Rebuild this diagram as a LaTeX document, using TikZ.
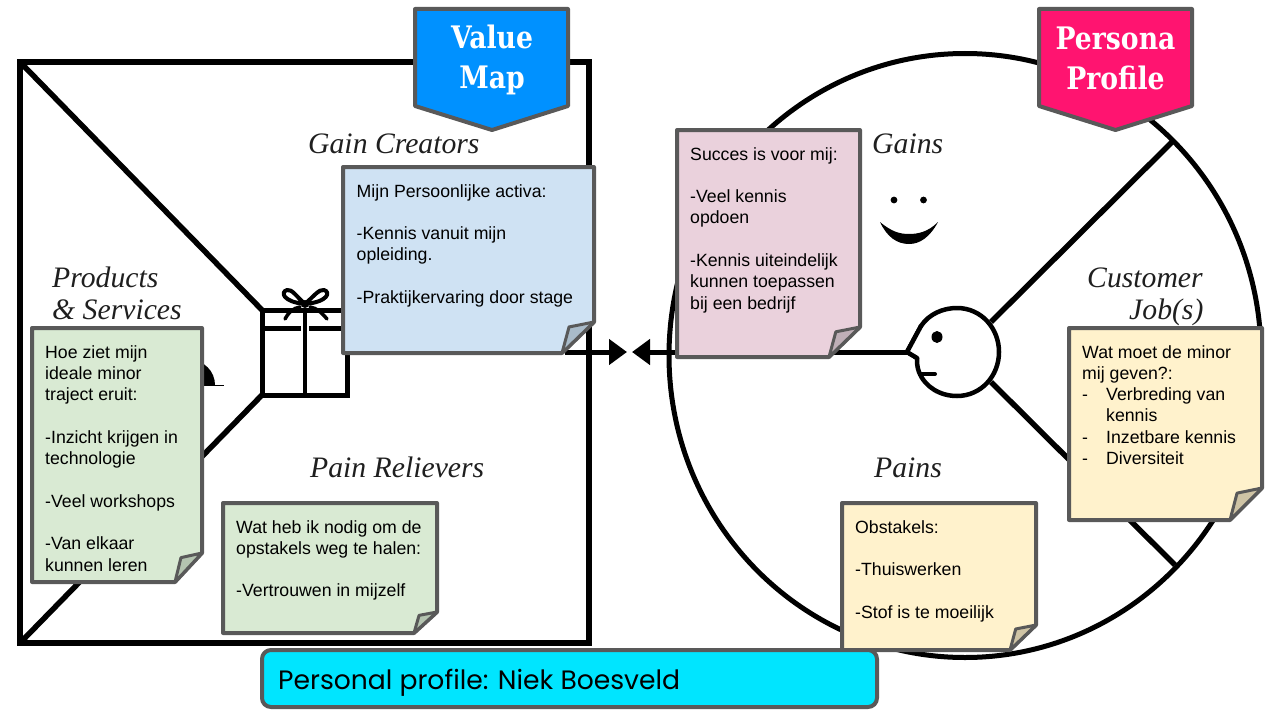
\documentclass[tikz,border=0pt]{standalone}
\usepackage{fontspec}
\usetikzlibrary{arrows.meta}
\setmainfont{Liberation Sans}
\newfontfamily\tagfont{DejaVu Serif}[FakeStretch=0.86]
\newfontfamily\labelfont{Liberation Serif}
\newfontfamily\barfont{Poppins}
\definecolor{edge}{HTML}{595959}
\definecolor{noteblue}{HTML}{CFE2F3}
\definecolor{notegreen}{HTML}{D9EAD3}
\definecolor{notepink}{HTML}{EAD1DC}
\definecolor{noteyellow}{HTML}{FFF2CC}
\definecolor{foldblue}{HTML}{A9BBC9}
\definecolor{foldgreen}{HTML}{B4C4B0}
\definecolor{foldpink}{HTML}{BFAFB7}
\definecolor{foldyellow}{HTML}{CFC4A5}
\definecolor{mapblue}{HTML}{0091FF}
\definecolor{profpink}{HTML}{FF1470}
\definecolor{barcyan}{HTML}{00E5FF}
\tikzset{
  ink/.style={draw=black,line width=5.5pt,line join=miter},
  thin ink/.style={draw=black,line width=4.5pt,line cap=round,line join=round},
  arrowline/.style={draw=black,line width=5pt,-{Triangle[length=18pt,width=25pt]}},
  notetext/.style={anchor=north west,inner sep=0pt,align=left,text=black,
    font=\fontsize{17.7}{21.3}\selectfont},
  sheet/.style={draw=edge,line width=4pt,line join=round},
  tagtext/.style={text=white,align=center,inner sep=0pt,
    font=\fontsize{31}{40}\selectfont\tagfont\bfseries},
  blocklabel/.style={anchor=base west,inner sep=0pt,text=black!88,
    font=\fontsize{29.7}{32}\selectfont\labelfont\itshape},
}
% name, x1,y1,x2,y2, fill, fold fill, fold w, fold h
\newcommand{\sheetshape}[9]{%
  \draw[sheet,fill=#6] (#2,#3) -- (#4,#3) -- (#4,{#5-#9}) -- ({#4-#8},#5) -- (#2,#5) -- cycle;
  \draw[sheet,line width=3pt,fill=#7] (#4,{#5-#9}) -- ({#4-0.78*#8},{#5-0.84*#9}) -- ({#4-#8},#5) -- cycle;
  \coordinate (#1) at (#2,#3);
}
\begin{document}
\begin{tikzpicture}[x=1pt,y=-1pt]
\useasboundingbox (0,0) rectangle (1269,717);
% ---------- value map
\draw[ink,line width=5.5pt] (20,62) rectangle (589,643);
\coordinate (boxTL) at (20,62);
\coordinate (boxBL) at (20,643);
\coordinate (giftTL) at (262,310);
\coordinate (giftBL) at (262,395);
\draw[ink] (boxTL) -- (giftTL);
\draw[ink] (boxBL) -- (giftBL);
% gift
\draw[ink,line width=5pt] (giftTL) rectangle (347,395);
\draw[ink,line width=5pt] (262,328) -- (347,328);
\draw[draw=white,line width=8pt] (301,328) -- (309,328);
\draw[ink,line width=4pt] (305,310) -- (305,395);
\draw[thin ink,line width=4pt] (305,304) .. controls (296,296) and (292,289) .. (287,290)
   .. controls (280,292) and (283,302) .. (305,304)
   .. controls (328,302) and (331,292) .. (324,290)
   .. controls (319,289) and (314,296) .. (305,304);
\draw[thin ink,line width=3.5pt] (300,307) .. controls (293,308) and (288,313) .. (285,319);
\draw[thin ink,line width=3.5pt] (310,307) .. controls (317,308) and (322,313) .. (327,319);
\fill[black] (305,304) circle (4pt);
% service plate (mostly hidden)
\fill[black] (165,385) arc[start angle=180,end angle=360,x radius=25,y radius=25] -- cycle;
\draw[draw=black,line width=1.5pt] (190,385.5) -- (224,385.5);
% ---------- persona profile
\draw[ink,line width=5pt] (965,355.5) ellipse[x radius=296,y radius=302];
\coordinate (rimUp) at (1173,141);
\coordinate (rimDown) at (1175,565);
\coordinate (headUp) at (991,322);
\coordinate (headDown) at (991,382);
\draw[ink] (headUp) -- (rimUp);
\draw[ink] (headDown) -- (rimDown);
\coordinate (nose) at (907,352);
\fill[white] (957,352) ellipse[x radius=42,y radius=44];
\draw[thin ink] (921,326) .. controls (929,314) and (943,308) .. (957,308)
   .. controls (981,308) and (999,328) .. (999,352)
   .. controls (999,376) and (981,396) .. (957,396)
   .. controls (940,396) and (925,387) .. (919,372)
   .. controls (917,367) and (917,362) .. (917,358) -- (nose) -- cycle;
\fill[white] (921,326) -- (nose) -- (917,358) -- (935,345) -- cycle;
\draw[thin ink] (921,326) -- (nose) -- (917,358);
\fill[black] (937,337) ellipse[x radius=5.5,y radius=6];
\draw[thin ink,line width=4pt] (921,374) -- (935,374);
% smile
\fill[black] (894,200) circle (3.4pt);
\fill[black] (923.5,200) circle (3.4pt);
\fill[black] (880,222) .. controls (892,232) and (900,234) .. (909,234)
   .. controls (918,234) and (928,232) .. (938,222)
   .. controls (930,237) and (920,244) .. (909,244)
   .. controls (897,244) and (887,237) .. cycle;
% ---------- arrows
\coordinate (mapOut) at (565,352);
\coordinate (mapTip) at (627,352);
\coordinate (profTip) at (632,352);
\draw[arrowline] (mapOut) -- (mapTip);
\draw[arrowline] (nose) -- (profTip);
% ---------- labels
\node[blocklabel] (gainCreators) at (308,153) {Gain Creators};
\node[blocklabel] (products) at (52,287) {Products};
\node[blocklabel] (services) at (52,319) {\& Services};
\node[blocklabel] (painRelievers) at (310,477) {Pain Relievers};
\node[blocklabel] (gains) at (872,153) {Gains};
\node[blocklabel] (customer) at (1087,287) {Customer};
\node[blocklabel] (jobs) at (1129,319) {Job(s)};
\node[blocklabel] (pains) at (874,477) {Pains};
% ---------- notes
\sheetshape{nBlue}{343}{167}{594}{353}{noteblue}{foldblue}{32}{31}
\node[notetext] (blueText) at (356.5,184) {Mijn Persoonlijke activa:\\ \mbox{}\\-Kennis vanuit mijn\\opleiding.\\ \mbox{}\\-Praktijkervaring door stage};
\sheetshape{nGreenA}{32}{328}{202}{582}{notegreen}{foldgreen}{27}{29}
\node[notetext] (greenAText) at (45,345) {Hoe ziet mijn\\ideale minor\\traject eruit:\\ \mbox{}\\-Inzicht krijgen in\\technologie\\ \mbox{}\\-Veel workshops\\ \mbox{}\\-Van elkaar\\kunnen leren};
\sheetshape{nGreenB}{223}{503}{437}{633}{notegreen}{foldgreen}{23}{21}
\node[notetext] (greenBText) at (236,520) {Wat heb ik nodig om de\\opstakels weg te halen:\\ \mbox{}\\-Vertrouwen in mijzelf};
\sheetshape{nPink}{677}{130}{860}{357}{notepink}{foldpink}{31}{30}
\node[notetext] (pinkText) at (690,147) {Succes is voor mij:\\ \mbox{}\\-Veel kennis\\opdoen\\ \mbox{}\\-Kennis uiteindelijk\\kunnen toepassen\\bij een bedrijf};
\sheetshape{nYellowA}{1069}{328}{1262}{520}{noteyellow}{foldyellow}{32}{32}
\node[notetext] (yellowAText) at (1082,345) {Wat moet de minor\\mij geven?:\\\makebox[24pt][l]{-}Verbreding van\\\hspace*{24pt}kennis\\\makebox[24pt][l]{-}Inzetbare kennis\\\makebox[24pt][l]{-}Diversiteit};
\sheetshape{nYellowB}{842}{503}{1036}{650}{noteyellow}{foldyellow}{26}{25}
\node[notetext] (yellowBText) at (855,520) {Obstakels:\\ \mbox{}\\-Thuiswerken\\ \mbox{}\\-Stof is te moeilijk};
% ---------- tags
\draw[sheet,fill=mapblue] (415,9) -- (568,9) -- (568,106) -- (492,130) -- (415,106) -- cycle;
\node[tagtext] (valueMap) at (492,60) {Value\\Map};
\draw[sheet,fill=profpink] (1039,9) -- (1192,9) -- (1192,106) -- (1115.5,130) -- (1039,106) -- cycle;
\node[tagtext] (personaProfile) at (1115.5,58) {Persona\\Profile};
% ---------- bottom bar
\draw[sheet,fill=barcyan,rounded corners=9pt] (262,650) rectangle (877,707);
\node[anchor=base west,inner sep=0pt,text=black,font=\fontsize{26.6}{30}\selectfont\barfont] (barText) at (278,689) {Personal profile: Niek Boesveld};
\end{tikzpicture}
\end{document}
